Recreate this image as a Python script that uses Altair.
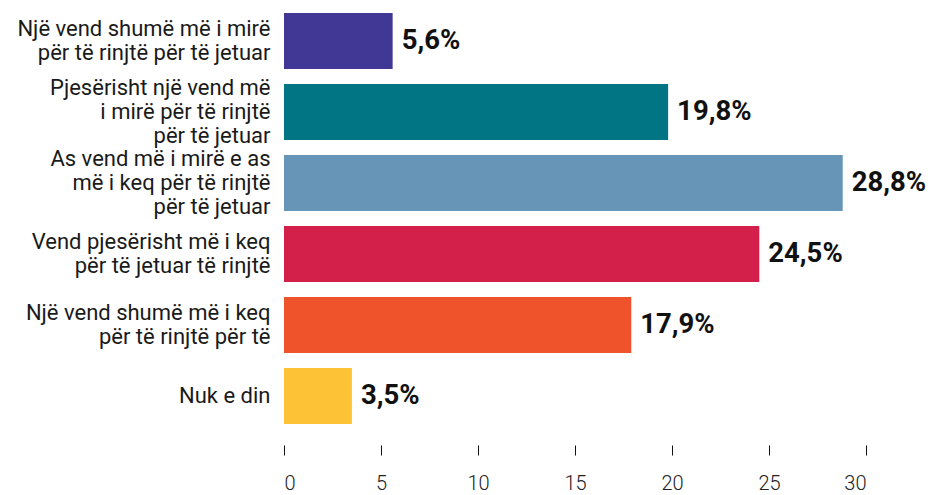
import altair as alt
import pandas as pd

categories = [
    "Një vend shumë më i mirë|për të rinjtë për të jetuar",
    "Pjesërisht një vend më|i mirë për të rinjtë|për të jetuar",
    "As vend më i mirë e as|më i keq për të rinjtë|për të jetuar",
    "Vend pjesërisht më i keq|për të jetuar të rinjtë",
    "Një vend shumë më i keq|për të rinjtë për të",
    "Nuk e din",
]
values = [5.6, 19.8, 28.8, 24.5, 17.9, 3.5]
value_labels = ["5,6%", "19,8%", "28,8%", "24,5%", "17,9%", "3,5%"]
colors = ["#403894", "#017584", "#6695B8", "#D2204A", "#EF532B", "#FDC236"]
x_ticks = [0, 5, 10, 15, 20, 25, 30]

df = pd.DataFrame({"cat": categories, "value": values, "label": value_labels})

FONT = "Roboto"
LH = 24

three_lines = "indexof(datum.value, '|') >= 0 && lastindexof(datum.value, '|') != indexof(datum.value, '|')"
two_lines = "indexof(datum.value, '|') >= 0"

y_enc = alt.Y(
    "cat:N",
    sort=categories,
    scale=alt.Scale(paddingInner=0.2113, paddingOuter=0.0704),
    axis=alt.Axis(
        title=None,
        labelExpr="split(datum.label, '|')",
        labelFont=FONT,
        labelFontSize=22,
        labelFontWeight="normal",
        labelColor="#1a1a1a",
        labelLineHeight=LH,
        labelPadding=14,
        labelLimit=400,
        labelOffset={
            "condition": [
                {"test": three_lines, "value": -LH},
                {"test": two_lines, "value": -LH / 2},
            ],
            "value": 0,
        },
        ticks=False,
        domain=False,
        grid=False,
    ),
)

x_enc = alt.X(
    "value:Q",
    scale=alt.Scale(domain=[0, 30], nice=False),
    axis=alt.Axis(
        title=None,
        values=x_ticks,
        domain=False,
        grid=False,
        tickSize=10,
        tickColor="#111111",
        tickWidth=1,
        offset=16,
        labelPadding=18,
        labelFont=FONT,
        labelFontSize=20,
        labelFontWeight=300,
        labelColor="#222222",
    ),
)

bars = alt.Chart(df).mark_bar().encode(
    y=y_enc,
    x=x_enc,
    color=alt.Color("cat:N", scale=alt.Scale(domain=categories, range=colors), legend=None),
)

text = alt.Chart(df).mark_text(
    align="left", baseline="middle", dx=9, font=FONT, fontSize=27.5, fontWeight="bold", color="#111111"
).encode(
    y=alt.Y("cat:N", sort=categories),
    x=alt.X("value:Q"),
    text="label:N",
)

chart = (
    alt.layer(bars, text)
    .properties(
        width=582,
        height=421,
        autosize=alt.AutoSizeParams(type="none"),
        padding={"left": 276, "top": 0, "right": 61, "bottom": 64},
    )
    .configure_view(stroke=None)
)

chart.save("out.html", embed_options={"renderer": "svg", "actions": False})
